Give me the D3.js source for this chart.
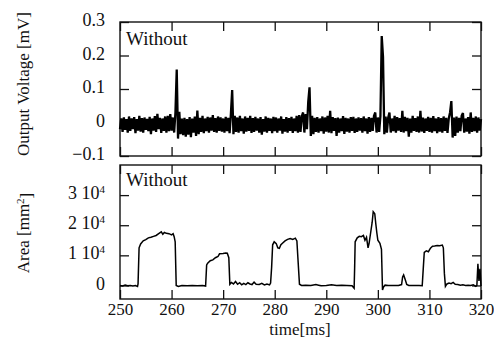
<!DOCTYPE html>
<html>
<head>
<meta charset="utf-8">
<script src="https://cdn.jsdelivr.net/npm/d3@7"></script>
<style>
  body { margin: 0; background: #fff; }
  svg text { font-family: "Liberation Serif", "Times New Roman", serif; fill: #111; }
</style>
</head>
<body>
<div id="chart"></div>
<script>
// x ticks shared by both panels
const timeTicks = [250, 260, 270, 280, 290, 300, 310, 320];
const voltTicks = [-0.1, 0, 0.1, 0.2, 0.3];
const areaTicks = [0, 10000, 20000, 30000];
const areaTickLabels = ["0", "1 10|4", "2 10|4", "3 10|4"];

// output voltage [mV], sampled every 0.25 ms from 250 ms
const voltStart = 250, voltStep = 0.25;
const voltage = [
  -0.02,0.012,-0.028,0.015,-0.022,0.01,-0.03,0.018,-0.025,0.012,-0.02,0.016,-0.032,0.01,-0.024,0.02,-0.027,0.013,-0.03,0.015,
  -0.022,0.011,-0.026,0.017,-0.035,0.012,-0.024,0.019,-0.028,0.026,-0.02,0.014,-0.031,0.012,-0.025,0.018,-0.03,0.02,-0.026,0.025,
  -0.024,0.015,-0.03,0.03,0.158,-0.048,0.032,-0.035,0.012,-0.038,0.014,-0.042,0.01,-0.036,0.016,-0.044,0.012,-0.03,0.018,-0.04,
  0.036,-0.035,0.014,-0.028,0.02,-0.032,0.012,-0.026,0.017,-0.03,0.015,-0.024,0.022,-0.028,0.013,-0.03,0.018,-0.025,0.015,-0.027,
  0.012,-0.03,0.017,-0.026,0.014,-0.032,0.025,0.097,-0.035,0.02,-0.028,0.015,-0.03,0.02,-0.026,0.012,-0.033,0.018,-0.027,0.014,
  -0.025,0.02,-0.031,0.013,-0.028,0.017,-0.024,0.012,-0.03,0.016,-0.036,0.01,-0.027,0.018,-0.03,0.014,-0.025,0.012,-0.032,0.017,
  -0.026,0.015,-0.03,0.012,-0.024,0.018,-0.033,0.01,-0.027,0.016,-0.03,0.013,-0.025,0.017,-0.031,0.012,-0.026,0.02,-0.03,0.022,
  -0.028,0.018,0.03,-0.03,0.025,-0.02,0.062,0.105,-0.04,0.02,-0.035,0.014,-0.028,0.016,-0.03,0.012,-0.026,0.018,-0.033,0.015,
  -0.027,0.02,-0.03,0.035,-0.032,0.016,-0.025,0.013,-0.04,0.015,-0.03,0.012,-0.026,0.019,-0.034,0.014,-0.027,0.012,-0.03,0.016,
  -0.025,0.017,-0.031,0.012,-0.028,0.015,-0.024,0.013,-0.03,0.018,-0.026,0.012,-0.033,0.016,-0.028,0.014,-0.025,0.02,0.03,-0.03,
  0.015,-0.028,0.02,0.258,0.196,-0.035,0.018,-0.03,0.014,0.03,-0.03,0.012,-0.026,0.02,-0.03,0.016,-0.024,0.013,-0.028,0.035,
  -0.03,0.017,-0.026,0.014,-0.042,0.012,-0.03,0.02,-0.025,0.013,-0.028,0.018,-0.03,0.035,-0.027,0.015,-0.031,0.012,-0.025,0.017,
  -0.028,0.014,-0.03,0.019,-0.026,0.012,-0.032,0.016,-0.027,0.013,-0.03,0.018,-0.025,0.014,-0.031,0.012,0.03,0.064,-0.045,0.015,
  -0.04,0.018,-0.03,0.014,-0.026,0.02,0.028,-0.03,0.012,-0.027,0.016,-0.033,0.03,-0.028,0.014,-0.026,0.018,-0.03,0.015,-0.024,
  0.01
];

// area [mm^2] as [time ms, area]
const area = [
  [250,0],[250.5,-200],[251,100],[251.5,-100],[252,0],[252.5,-200],[253,0],[253.4,-300],[253.5,500],[253.7,12500],
  [254,13800],[254.5,14800],[255,15200],[255.5,15800],[256,16000],[256.5,16300],[257,16600],[257.5,17200],[258,17800],
  [258.3,17000],[258.6,17600],[259,17300],[259.5,17200],[260,16800],[260.3,17200],[260.5,16200],[260.7,14500],[260.9,0],
  [261.3,-300],[262,0],[263,-100],[264,0],[265,-100],[266,0],[266.6,-200],[266.8,6800],[267,7400],[267.5,8200],[268,8500],
  [268.5,9200],[269,9600],[269.3,10500],[270,10600],[270.5,10800],[270.8,10700],[271.1,9200],[271.3,400],[271.6,1000],
  [272,500],[272.4,1300],[272.8,400],[273.2,900],[273.6,200],[274,700],[274.4,300],[274.8,900],[275.2,500],[275.6,300],
  [276,1100],[276.4,400],[277,300],[277.5,700],[278,200],[278.5,500],[279,200],[279.2,800],[279.4,6000],[279.6,13500],
  [279.9,14500],[280.3,13900],[280.6,12500],[280.9,12300],[281.2,13500],[281.5,14000],[282,14800],[282.5,15300],
  [283,15600],[283.5,15300],[284,15700],[284.3,14800],[284.5,9000],[284.8,400],[285.2,0],[286,100],[287,0],[288,300],
  [288.5,100],[289,-100],[290,0],[291,200],[292,0],[293,100],[294,0],[295,-100],[295.4,-900],[295.5,6000],[295.6,14500],
  [296,15800],[296.4,16300],[296.8,16200],[297.2,16600],[297.5,15000],[297.8,16000],[298.1,12500],[298.3,14000],
  [298.6,17500],[298.9,21000],[299.1,24500],[299.4,23800],[299.6,20500],[299.8,17500],[300,15000],[300.4,14000],
  [300.7,12000],[300.9,-1500],[301.1,-500],[301.4,100],[302,0],[303,0],[304,0],[304.6,300],[304.8,2800],[305,3500],
  [305.3,2000],[305.6,300],[306,0],[307,0],[308,0],[308.6,-100],[308.8,5500],[309,11000],[309.4,11500],[309.8,11200],
  [310.2,12400],[310.6,13000],[311,13100],[311.5,13300],[312,13200],[312.5,13400],[312.7,12500],[312.9,4000],[313.1,-300],
  [313.4,500],[313.8,800],[314.2,600],[314.6,1000],[315,400],[315.5,300],[316,100],[316.5,200],[317,0],[317.5,100],
  [318,0],[318.5,200],[319,-300],[319.2,0],[319.4,7200],[319.6,1500],[319.8,5500],[320,-200]
];

const W = 494, H = 340;
const svg = d3.select("#chart").append("svg").attr("width", W).attr("height", H);

const x = d3.scaleLinear().domain([250, 320]).range([120, 481]);
const yV = d3.scaleLinear().domain([-0.1, 0.3]).range([156, 22]);
const yA = d3.scaleLinear().domain([-4500, 40000]).range([299, 165]);

function panel(y, top, bottom, showX) {
  const g = svg.append("g");
  const tk = 9;
  g.append("g").attr("transform", `translate(0,${bottom})`)
    .call(d3.axisBottom(x).tickValues(timeTicks).tickSize(-tk).tickPadding(4).tickFormat(showX ? d3.format("d") : ""))
    .call(a => a.select(".domain").remove());
  g.append("g").attr("transform", `translate(0,${top})`)
    .call(d3.axisTop(x).tickValues(timeTicks).tickSize(-tk).tickFormat(""))
    .call(a => a.select(".domain").remove());
  g.append("g").attr("transform", `translate(481,0)`)
    .call(d3.axisRight(y).tickValues(y === yV ? voltTicks : areaTicks).tickSize(-tk).tickFormat(""))
    .call(a => a.select(".domain").remove());
  return g;
}

const gV = panel(yV, 22, 156, false);
const gA = panel(yA, 165, 299, true);

// left axes with labels
const axV = svg.append("g").attr("transform", "translate(120,0)")
  .call(d3.axisLeft(yV).tickValues(voltTicks).tickSize(-9).tickPadding(15).tickFormat(d => d === 0 ? "0" : d3.format(".1f")(d)));
axV.select(".domain").remove();

const axA = svg.append("g").attr("transform", "translate(120,0)")
  .call(d3.axisLeft(yA).tickValues(areaTicks).tickSize(-9).tickPadding(15).tickFormat((d, i) => areaTickLabels[i]));
axA.select(".domain").remove();
axA.selectAll(".tick text").each(function() {
  const t = d3.select(this);
  const parts = t.text().split("|");
  t.text(parts[0]);
  if (parts[1]) t.append("tspan").attr("dy", "-0.55em").attr("font-size", 11).text(parts[1]);
});
svg.selectAll(".tick line").attr("stroke", "#111").attr("stroke-width", 1.3);
svg.selectAll(".tick text").attr("font-size", 18).attr("fill", "#111");
axV.selectAll(".tick text").attr("dy", "0.2em");
axA.selectAll(".tick text").attr("dy", "0.2em");
gA.selectAll(".tick text").attr("font-size", 17);

// frames
[[22, 156], [165, 299]].forEach(([t, b]) => {
  svg.append("rect").attr("x", 120).attr("y", t).attr("width", 361).attr("height", b - t)
    .attr("fill", "none").attr("stroke", "#111").attr("stroke-width", 1.4);
});

// traces
const lineV = d3.line().x((d, i) => x(voltStart + i * voltStep)).y(d => yV(d));
svg.append("path").datum(voltage).attr("d", lineV)
  .attr("fill", "none").attr("stroke", "#000").attr("stroke-width", 2.3).attr("stroke-linejoin", "bevel");

const lineA = d3.line().x(d => x(d[0])).y(d => yA(d[1]));
svg.append("path").datum(area).attr("d", lineA)
  .attr("fill", "none").attr("stroke", "#000").attr("stroke-width", 1.5);

// panel tags
svg.append("text").attr("x", 126).attr("y", 45).attr("font-size", 19).text("Without");
svg.append("text").attr("x", 126).attr("y", 186).attr("font-size", 19).text("Without");

// axis titles
svg.append("text").attr("text-anchor", "middle").attr("font-size", 17)
  .attr("transform", "translate(300,335)").text("time[ms]");

svg.append("text").attr("text-anchor", "middle").attr("font-size", 17)
  .attr("transform", "translate(29,84) rotate(-90)").text("Output Voltage [mV]");

const at = svg.append("text").attr("text-anchor", "middle").attr("font-size", 17)
  .attr("transform", "translate(29,233) rotate(-90)");
at.append("tspan").text("Area [mm");
at.append("tspan").attr("dy", "-0.5em").attr("font-size", 11).text("2");
at.append("tspan").attr("dy", "0.5em").text("]");
</script>
</body>
</html>
